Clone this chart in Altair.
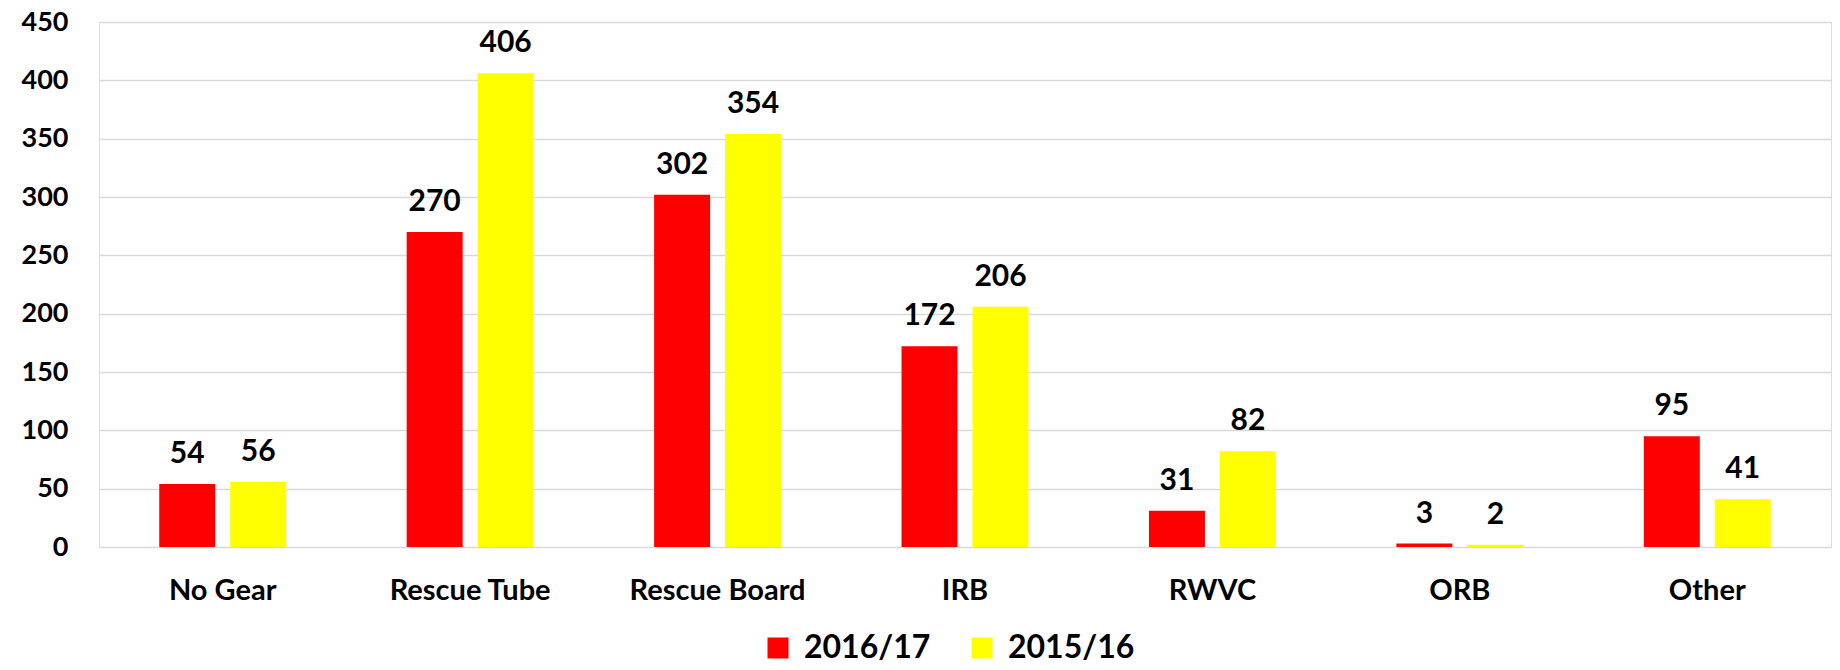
import altair as alt
import pandas as pd

categories = ["No Gear", "Rescue Tube", "Rescue Board", "IRB", "RWVC", "ORB", "Other"]
series = ["2016/17", "2015/16"]
values_1617 = [54, 270, 302, 172, 31, 3, 95]
values_1516 = [56, 406, 354, 206, 82, 2, 41]
colors = ["#FF0000", "#FFFF00"]

rows = []
for c, a, b in zip(categories, values_1617, values_1516):
    rows.append({"cat": c, "season": series[0], "value": a})
    rows.append({"cat": c, "season": series[1], "value": b})
df = pd.DataFrame(rows)

FONT = "Lato"
pi = 0.487

x = alt.X("cat:N", sort=categories, title=None,
          scale=alt.Scale(paddingInner=pi, paddingOuter=pi / 2),
          axis=alt.Axis(labelAngle=0, labelFont=FONT, labelFontWeight="bold",
                        labelFontSize=29, labelColor="#000000", labelPadding=29,
                        ticks=False, domain=False, grid=False))
xo = alt.XOffset("season:N", sort=series,
                 scale=alt.Scale(paddingInner=0.211, paddingOuter=0))
y = alt.Y("value:Q", title=None,
          scale=alt.Scale(domain=[0, 450], nice=False),
          axis=alt.Axis(values=list(range(0, 451, 50)), labelFont=FONT,
                        labelFontWeight="bold", labelFontSize=27,
                        labelColor="#000000", labelPadding=31, ticks=False,
                        domain=False, grid=True, gridColor="#d9d9d9",
                        gridWidth=1.5))
color = alt.Color("season:N", sort=series,
                  scale=alt.Scale(domain=series, range=colors),
                  legend=alt.Legend(title=None, orient="none", direction="horizontal",
                                    legendX=663, legendY=610, symbolType="square",
                                    symbolSize=441, symbolStrokeWidth=0,
                                    labelFont=FONT, labelFontWeight="bold",
                                    labelFontSize=32, labelColor="#000000",
                                    labelOffset=10, columnPadding=35))

bars = alt.Chart(df).mark_bar().encode(x=x, xOffset=xo, y=y, color=color)
labels = alt.Chart(df).mark_text(font=FONT, fontWeight="bold", fontSize=30,
                                 color="#000000", baseline="alphabetic",
                                 dy=-21).encode(
    x=x, xOffset=xo, y=y, text="value:Q")

chart = alt.layer(bars, labels).properties(
    width=1732, height=525,
    autosize=alt.AutoSizeParams(type="none"),
    padding={"left": 91, "top": 14, "right": 1, "bottom": 115},
).configure_view(stroke=None).configure(background="#ffffff")

chart.save("out.html", embed_options={"renderer": "svg", "actions": False})
